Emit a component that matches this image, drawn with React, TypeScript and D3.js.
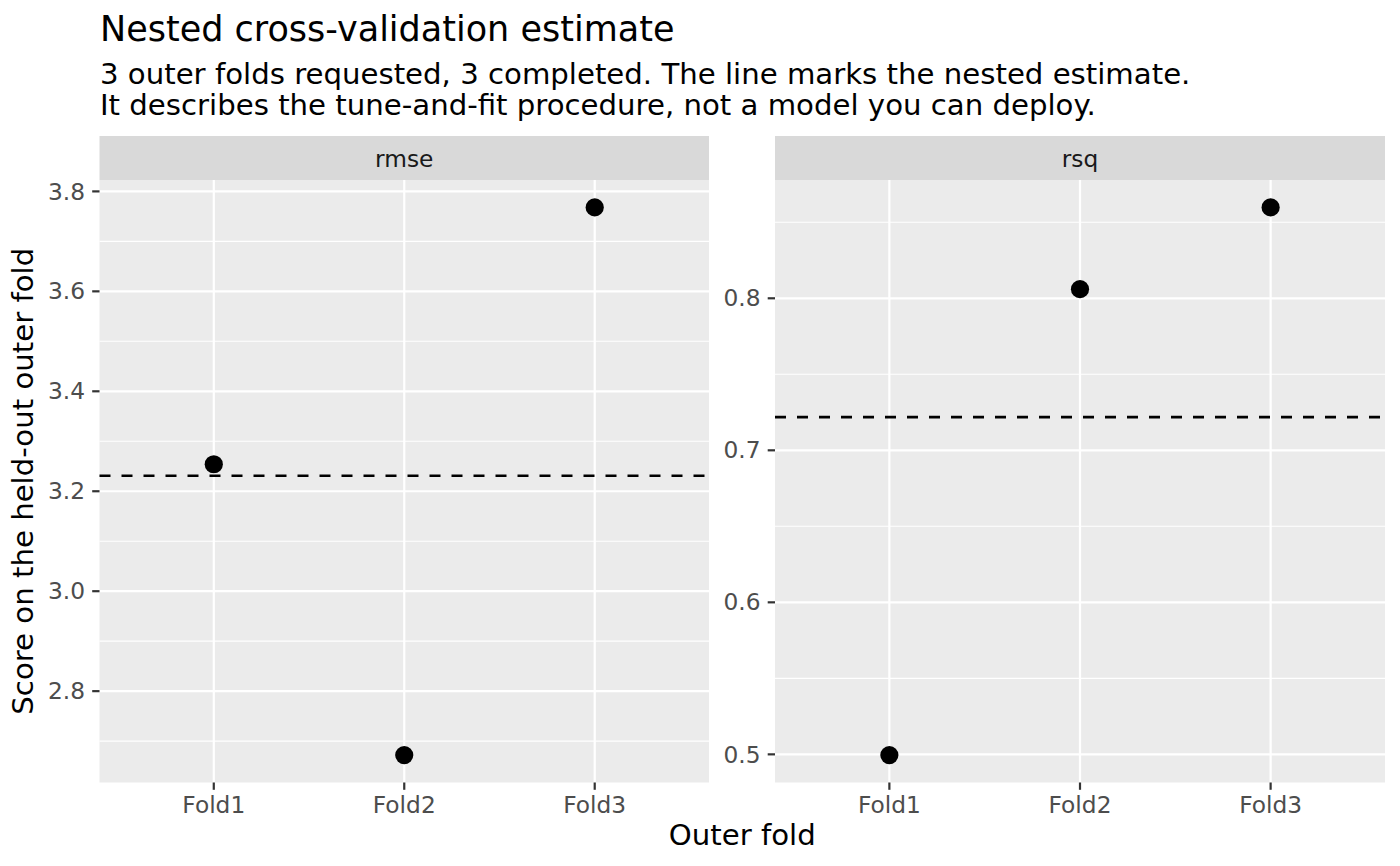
import React from "react";
import * as d3 from "d3";

const folds = ["Fold1", "Fold2", "Fold3"];
const metrics = ["rmse", "rsq"];
const rmseValues = [3.254, 2.672, 3.768];
const rsqValues = [0.4995, 0.806, 0.8598];
const nestedEstimates = [3.231, 0.7218];
const rmseTicks = [2.8, 3.0, 3.2, 3.4, 3.6, 3.8];
const rmseMinor = [2.7, 2.9, 3.1, 3.3, 3.5, 3.7];
const rsqTicks = [0.5, 0.6, 0.7, 0.8];
const rsqMinor = [0.55, 0.65, 0.75, 0.85];

const title = "Nested cross-validation estimate";
const subtitle = [
  "3 outer folds requested, 3 completed. The line marks the nested estimate.",
  "It describes the tune-and-fit procedure, not a model you can deploy.",
];
const xTitle = "Outer fold";
const yTitle = "Score on the held-out outer fold";

const W = 1400;
const H = 866;
const FONT = "'DejaVu Sans', sans-serif";
const panelTop = 180;
const panelBottom = 782.5;
const stripTop = 136;
const panels = [
  { x0: 99.5, x1: 709 },
  { x0: 775, x1: 1385 },
];

function expandDomain(vals: number[]): [number, number] {
  const lo = d3.min(vals) as number;
  const hi = d3.max(vals) as number;
  const pad = (hi - lo) * 0.05;
  return [lo - pad, hi + pad];
}

export default function App() {
  const series = [rmseValues, rsqValues];
  const ticks = [rmseTicks, rsqTicks];
  const minors = [rmseMinor, rsqMinor];
  const fmt = [d3.format(".1f"), d3.format(".1f")];

  return (
    <svg width={W} height={H} style={{ display: "block", marginLeft: -8, marginTop: -8 }} fontFamily={FONT}>
      <rect x={0} y={0} width={W} height={H} fill="#FFFFFF" />
      <text x={100} y={41} fontSize={35} fill="#000">{title}</text>
      {subtitle.map((s, i) => (
        <text key={i} x={100} y={83.5 + i * 31.5} fontSize={29.2} fill="#000">{s}</text>
      ))}
      {metrics.map((m, pi) => {
        const p = panels[pi];
        const x = d3.scalePoint<string>().domain(folds).range([p.x0, p.x1]).padding(0.6);
        const y = d3.scaleLinear().domain(expandDomain(series[pi])).range([panelBottom, panelTop]);
        const vals = series[pi];
        return (
          <g key={m}>
            <rect x={p.x0} y={stripTop} width={p.x1 - p.x0} height={panelTop - stripTop} fill="#D9D9D9" />
            <text x={(p.x0 + p.x1) / 2} y={166.5} fontSize={23.3} fill="#1A1A1A" textAnchor="middle">{m}</text>
            <rect x={p.x0} y={panelTop} width={p.x1 - p.x0} height={panelBottom - panelTop} fill="#EBEBEB" />
            {minors[pi].filter((v) => y(v) >= panelTop && y(v) <= panelBottom).map((v) => (
              <line key={"mn" + v} x1={p.x0} x2={p.x1} y1={y(v)} y2={y(v)} stroke="#FFFFFF" strokeWidth={1.1} />
            ))}
            {ticks[pi].map((v) => (
              <line key={"mj" + v} x1={p.x0} x2={p.x1} y1={y(v)} y2={y(v)} stroke="#FFFFFF" strokeWidth={2.2} />
            ))}
            {folds.map((f) => (
              <line key={"vx" + f} x1={x(f)} x2={x(f)} y1={panelTop} y2={panelBottom} stroke="#FFFFFF" strokeWidth={2.2} />
            ))}
            <line
              x1={p.x0}
              x2={p.x1}
              y1={y(nestedEstimates[pi])}
              y2={y(nestedEstimates[pi])}
              stroke="#000"
              strokeWidth={2.6}
              strokeDasharray="11 11"
            />
            {folds.map((f, i) => (
              <circle key={"pt" + f} cx={x(f)} cy={y(vals[i])} r={9.1} fill="#000" />
            ))}
            {ticks[pi].map((v) => (
              <g key={"yt" + v}>
                <line x1={p.x0 - 7.3} x2={p.x0} y1={y(v)} y2={y(v)} stroke="#333333" strokeWidth={2.2} />
                <text x={p.x0 - 14.5} y={y(v)} dy="0.35em" fontSize={23.3} fill="#4D4D4D" textAnchor="end">
                  {fmt[pi](v)}
                </text>
              </g>
            ))}
            {folds.map((f) => (
              <g key={"xt" + f}>
                <line x1={x(f)} x2={x(f)} y1={panelBottom} y2={panelBottom + 7.3} stroke="#333333" strokeWidth={2.2} />
                <text x={x(f)} y={813} fontSize={23.3} fill="#4D4D4D" textAnchor="middle">{f}</text>
              </g>
            ))}
          </g>
        );
      })}
      <text x={(panels[0].x0 + panels[1].x1) / 2} y={845} fontSize={29.2} fill="#000" textAnchor="middle">{xTitle}</text>
      <text
        transform={`translate(33, ${(panelTop + panelBottom) / 2}) rotate(-90)`}
        fontSize={29.2}
        fill="#000"
        textAnchor="middle"
      >
        {yTitle}
      </text>
    </svg>
  );
}
